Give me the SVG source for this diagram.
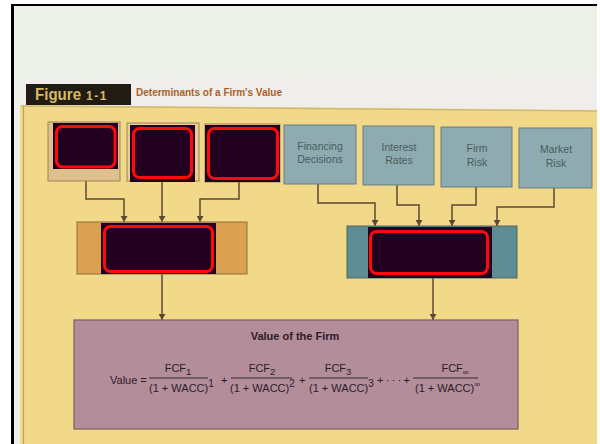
<svg xmlns="http://www.w3.org/2000/svg" width="600" height="444" viewBox="0 0 600 444">
<defs>
<style>
.conn{fill:none;stroke:#5b4a32;stroke-width:1.5}
.red{fill:#23001f}
.redb{fill:none;stroke:#ff0a0a;stroke-width:3}
.lbl{font-family:"Liberation Sans",Arial,sans-serif;font-size:10.5px;fill:#4b5c61;text-anchor:middle}
.eq{font-family:"Liberation Sans",Arial,sans-serif;font-size:11px;fill:#2a2028}
.mid{text-anchor:middle}
.fl{stroke:#2a2028;stroke-width:0.9}
.blue{fill:#8eabb1;stroke:#687c7e;stroke-width:1}
</style>
<marker id="ah" markerWidth="6" markerHeight="7" refX="6" refY="3.5" orient="auto" markerUnits="userSpaceOnUse">
<path d="M0,0 L6,3.5 L0,7 z" fill="#5b4a32"/>
</marker>
</defs>
<rect x="0" y="0" width="600" height="444" fill="#ffffff"/>
<rect x="12" y="5" width="585" height="439" fill="#edf1ea"/>
<!-- page photo -->
<polygon points="20,80 597,79 597,110 20,105" fill="#efeeea"/>
<polygon points="20,105 597,110 597,444 20,444" fill="#f2d98a"/>
<line x1="23.5" y1="105" x2="23.5" y2="444" stroke="#b9a062" stroke-width="1.2"/>
<line x1="22" y1="106" x2="597" y2="111" stroke="#cdb875" stroke-width="1.5"/>
<!-- frame -->
<rect x="11" y="4" width="586" height="2" fill="#000"/>
<rect x="11" y="4" width="3" height="440" fill="#000"/>
<!-- header -->
<g id="header">
<rect x="26" y="84" width="105" height="21" fill="#211c13"/>
<text x="35" y="100" font-family="Liberation Sans,Arial,sans-serif" font-weight="bold" font-size="16" fill="#d8b964"><tspan textLength="46" lengthAdjust="spacingAndGlyphs">Figure</tspan><tspan x="86" font-size="12" letter-spacing="1.5">1-1</tspan></text>
<text x="136" y="96" font-family="Liberation Sans,Arial,sans-serif" font-weight="bold" font-size="10" fill="#a9622c" textLength="146" lengthAdjust="spacingAndGlyphs">Determinants of a Firm's Value</text>
</g>
<!-- connectors -->
<g id="connectors">
<polyline class="conn" points="86,181 86,199 124,199 124,222" marker-end="url(#ah)"/>
<polyline class="conn" points="162,182 162,222" marker-end="url(#ah)"/>
<polyline class="conn" points="239,182 239,199 200,199 200,222" marker-end="url(#ah)"/>
<polyline class="conn" points="162,274 162,320" marker-end="url(#ah)"/>
<polyline class="conn" points="318,184 318,203 375,203 375,226" marker-end="url(#ah)"/>
<polyline class="conn" points="397,185 397,205 419,205 419,226" marker-end="url(#ah)"/>
<polyline class="conn" points="476,187 476,205 452,205 452,226" marker-end="url(#ah)"/>
<polyline class="conn" points="554,188 554,207 497,207 497,226" marker-end="url(#ah)"/>
<polyline class="conn" points="433,278 433,320" marker-end="url(#ah)"/>
</g>
<!-- top left boxes (redacted) -->
<g id="box1">
<rect x="48" y="122" width="72" height="59" fill="#dfbf8e" stroke="#9b8256"/>
<rect class="red" x="53" y="123" width="65" height="46"/>
<rect class="redb" x="56.5" y="126.5" width="58.5" height="40.5" rx="6"/>
</g>
<g id="box2">
<rect x="127" y="123" width="72" height="58" fill="#e6cf94" stroke="#9b8256"/>
<rect class="red" x="130" y="125" width="65" height="57"/>
<rect class="redb" x="133.5" y="128.5" width="58" height="49" rx="6"/>
</g>
<g id="box3">
<rect x="205" y="124" width="75" height="58" fill="#e6cf94" stroke="#9b8256"/>
<rect class="red" x="205" y="125" width="75" height="57"/>
<rect class="redb" x="208.5" y="128.5" width="69" height="50" rx="6"/>
</g>
<!-- top right boxes -->
<g id="financing">
<rect class="blue" x="284" y="125" width="72" height="59"/>
<text class="lbl" x="320" y="150">Financing</text>
<text class="lbl" x="320" y="163">Decisions</text>
</g>
<g id="interest">
<rect class="blue" x="363" y="126" width="71" height="59"/>
<text class="lbl" x="399" y="151">Interest</text>
<text class="lbl" x="399" y="164">Rates</text>
</g>
<g id="firmrisk">
<rect class="blue" x="441" y="127" width="71" height="60"/>
<text class="lbl" x="477" y="152">Firm</text>
<text class="lbl" x="477" y="166">Risk</text>
</g>
<g id="marketrisk">
<rect class="blue" x="519" y="128" width="73" height="60"/>
<text class="lbl" x="556" y="153">Market</text>
<text class="lbl" x="556" y="167">Risk</text>
</g>
<!-- middle boxes -->
<g id="midleft">
<rect x="77" y="222" width="170" height="52" fill="#d9a151" stroke="#8c6c3a"/>
<rect class="red" x="101" y="223" width="115" height="51"/>
<rect class="redb" x="104.5" y="226.5" width="108" height="45" rx="6"/>
</g>
<g id="midright">
<rect x="347" y="226" width="170" height="52" fill="#5e8d94" stroke="#4a6868"/>
<rect class="red" x="368" y="227" width="124" height="51"/>
<rect class="redb" x="370.5" y="231.5" width="117" height="42" rx="6"/>
</g>
<!-- value box -->
<g id="value">
<rect x="74" y="320" width="444" height="109" fill="#b48d9b" stroke="#7d5d52" stroke-width="1.2"/>
<text x="295" y="340" class="eq mid" font-weight="bold" font-size="10.5">Value of the Firm</text>
<text x="110" y="384" class="eq" font-size="10">Value =</text>
<line class="fl" x1="149" y1="378" x2="208" y2="378"/>
<text x="178" y="372" class="eq mid">FCF<tspan font-size="9.5" dy="3">1</tspan></text>
<text x="149" y="392" class="eq">(1 + WACC)<tspan font-size="10" dy="-5">1</tspan></text>
<text x="221" y="384" class="eq" font-size="9">+</text>
<line class="fl" x1="231" y1="378" x2="292" y2="378"/>
<text x="262" y="372" class="eq mid">FCF<tspan font-size="9.5" dy="3">2</tspan></text>
<text x="230" y="392" class="eq">(1 + WACC)<tspan font-size="10" dy="-5">2</tspan></text>
<text x="299" y="384" class="eq" font-size="9">+</text>
<line class="fl" x1="309" y1="378" x2="368" y2="378"/>
<text x="338" y="372" class="eq mid">FCF<tspan font-size="9.5" dy="3">3</tspan></text>
<text x="309" y="392" class="eq">(1 + WACC)<tspan font-size="10" dy="-5">3</tspan></text>
<text x="377" y="384" class="eq" font-size="9" textLength="33">+ · · · +</text>
<line class="fl" x1="413" y1="378" x2="478" y2="378"/>
<text x="455" y="372" class="eq mid">FCF<tspan font-size="8" dy="3">∞</tspan></text>
<text x="415" y="392" class="eq">(1 + WACC)<tspan font-size="8" dy="-5">∞</tspan></text>
</g>
</svg>
